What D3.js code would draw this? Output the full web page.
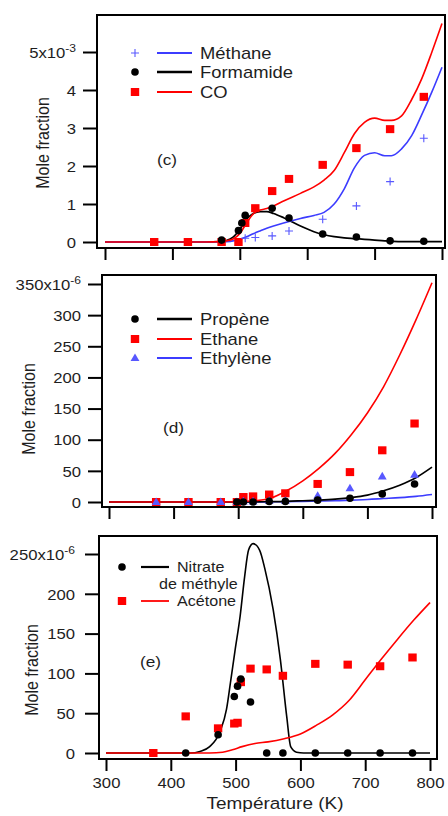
<!DOCTYPE html>
<html><head><meta charset="utf-8">
<script src="https://cdn.jsdelivr.net/npm/d3@7"></script>
<style>body{margin:0;background:#fff}svg{display:block}text{font-family:"Liberation Sans",Arial,sans-serif;fill:#1e1e1e}</style>
</head><body><svg id="c" width="448" height="816"></svg>
<script>
// ---------- data ----------
const tempTicks = [300,400,500,600,700,800];

// panel (c), units 1e-3
const cYTicks = [0,1,2,3,4,5];
const methaneT = [508,523,548,573,623,673,723,773];
const methaneV = [0.10,0.12,0.16,0.29,0.60,0.95,1.59,2.73];
const formamideT = [473,498,503,508,548,573,623,673,723,773];
const formamideV = [0.05,0.30,0.50,0.70,0.89,0.63,0.21,0.13,0.03,0.02];
const coT = [373,423,473,498,508,523,548,573,623,673,723,773];
const coV = [0,0,0,0,0.50,0.89,1.34,1.66,2.03,2.47,2.97,3.82];
const modelTc = [300,450,470,480,490,500,510,520,530,540,550,565,590,610,625,640,655,670,685,700,715,725,740,755,770,785,800];
const coModel = [0,0,0.01,0.03,0.08,0.22,0.50,0.74,0.84,0.88,0.95,1.08,1.28,1.45,1.63,1.88,2.35,2.85,3.15,3.26,3.20,3.20,3.32,3.75,4.30,5.00,5.75];
const methaneModel = [0,0,0,0.01,0.03,0.07,0.14,0.22,0.29,0.36,0.42,0.50,0.62,0.70,0.78,1.00,1.40,1.95,2.28,2.35,2.27,2.27,2.45,2.80,3.35,3.95,4.60];
const formamideModel = [0,0,0.01,0.04,0.13,0.33,0.60,0.75,0.80,0.80,0.75,0.64,0.42,0.27,0.19,0.14,0.11,0.09,0.07,0.05,0.03,0.02,0.01,0.01,0.01,0.01,0.01];

// panel (d), units 1e-6
const dYTicks = [0,50,100,150,200,250,300,350];
const propeneT = [498,508,523,548,573,623,673,723,773];
const propeneV = [0,0,0,1,1,3,6,13,29];
const ethaneT = [373,423,473,498,508,523,548,573,623,673,723,773];
const ethaneV = [0,0,0,0,8,9,12,14,29,48,83,126];
const ethyleneT = [373,423,473,498,508,523,548,573,623,673,723,773];
const ethyleneV = [0,0,0,0,1,1,2,2,10,22,41,44];
const modelTd = [300,450,500,525,550,575,600,625,650,675,700,725,750,775,800];
const ethaneModel = [0,0,0.5,2,6,18,34,54,78,108,143,185,236,292,352];
const propeneModel = [0,0,0,0.2,0.5,1,2,3,4.5,7,11,18,27,39,56];
const ethyleneModel = [0,0,0,0.1,0.3,0.6,1,1.5,2,3,4,5.5,7,9,12];

// panel (e), units 1e-6
const eYTicks = [0,50,100,150,200,250];
const nitrateT = [423,473,498,503,508,523,548,573,623,673,723,773];
const nitrateV = [0,23,71,84,93,64,0,0,0,0,0,0];
const acetoneT = [373,423,473,498,503,508,523,548,573,623,673,723,773];
const acetoneV = [0,46,31,37,38,89,106,105,97,112,111,109,120];
const nitrateModelT = [300,430,445,460,476,486,492,499,507,514,520,527,537,545,558,569,579,585,594,605,800];
const nitrateModelV = [0,0,2,8,27,55,88,128,172,222,255,263,255,232,180,118,45,8,1,0,0];
const acetoneModelT = [300,460,480,495,510,530,550,575,600,625,650,675,700,725,750,775,800];
const acetoneModelV = [0,0,1,4,8,12,14,18,24,35,48,66,92,118,143,167,189];

// ---------- drawing ----------
const RED="#ff0000", BLUE="#3c3cff", BLUEM="#5858ff", BLACK="#000";
const SX=1.15;
const svg=d3.select("#c");
svg.append("rect").attr("width",448).attr("height",816).attr("fill","#fff");
const zip=(a,b)=>a.map((t,i)=>[t,b[i]]);

function txt(g,x,y,str,size,anchor){
  return g.append("text").attr("transform",`translate(${x},${y}) scale(${SX},1)`)
    .attr("font-size",size).attr("text-anchor",anchor||"start").text(str);
}
function marker(g,type,cx,cy,color){
  if(type==="circle") g.append("circle").attr("cx",cx).attr("cy",cy).attr("r",3.8).attr("fill",color);
  else if(type==="square") g.append("rect").attr("x",cx-4.2).attr("y",cy-4).attr("width",8.4).attr("height",8).attr("fill",color);
  else if(type==="plus") g.append("path").attr("d",`M${cx-4},${cy}H${cx+4}M${cx},${cy-4}V${cy+4}`).attr("stroke",color).attr("stroke-width",1.1).attr("fill","none");
  else if(type==="triangle") g.append("path").attr("transform",`translate(${cx},${cy+0.5})`).attr("d",d3.symbol(d3.symbolTriangle,34)()).attr("fill",color);
}

function panel(cfg){
  const g=svg.append("g");
  const x=d3.scaleLinear().domain([300,800]).range(cfg.xr);
  const y=d3.scaleLinear().domain([0,cfg.ymax]).range(cfg.yr);
  const line=d3.line().x(d=>x(d[0])).y(d=>y(d[1])).curve(d3.curveMonotoneX);
  cfg.lines.forEach(l=>{
    g.append("path").datum(zip(l.t,l.v)).attr("d",line).attr("fill","none")
      .attr("stroke",l.color).attr("stroke-width",l.w||1.6).attr("stroke-linejoin","round");
  });
  cfg.series.forEach(s=>{
    zip(s.t,s.v).forEach(d=>marker(g,s.type,x(d[0]),y(d[1]),s.color));
  });
  const f=cfg.f;
  g.append("rect").attr("x",f[0]).attr("y",f[1]).attr("width",f[2]-f[0]).attr("height",f[3]-f[1])
    .attr("fill","none").attr("stroke","#000").attr("stroke-width",2);
  // y axis
  const ya=g.append("g").attr("transform",`translate(${f[0]},0)`)
    .call(d3.axisLeft(y).tickValues(cfg.yticks).tickSize(14).tickSizeOuter(0).tickFormat(d=>String(d)));
  ya.attr("font-family",null).attr("font-size",null);
  ya.select(".domain").remove();
  ya.selectAll(".tick line").attr("stroke","#000").attr("stroke-width",2);
  ya.selectAll(".tick text").attr("x",null).attr("dy",null).attr("fill","#1e1e1e")
    .attr("font-size",14.5).attr("transform",`translate(${-cfg.lab},5.2) scale(${SX},1)`);
  ya.selectAll(".tick text").filter(d=>d===cfg.ymax).each(function(d){
    const t=d3.select(this); t.text(String(d)+"x10");
    t.append("tspan").attr("dy",-6).attr("font-size",10.5).text(cfg.exp);
  });
  // x axis
  const xa=g.append("g").attr("transform",`translate(0,${f[3]})`)
    .call(d3.axisBottom(x).tickValues(tempTicks).tickSize(12).tickSizeOuter(0).tickFormat(cfg.xlabels?(d=>String(d)):(()=> "")));
  xa.attr("font-family",null).attr("font-size",null);
  xa.select(".domain").remove();
  xa.selectAll(".tick line").attr("stroke","#000").attr("stroke-width",2);
  xa.selectAll(".tick text").attr("y",null).attr("dy",null).attr("fill","#1e1e1e")
    .attr("font-size",14.5).attr("transform",`translate(0,29) scale(${SX},1)`);
  // y title
  g.append("text").attr("transform",`translate(${cfg.yt[0]},${cfg.yt[1]}) scale(${SX},1) rotate(-90)`)
    .attr("font-size",16).attr("text-anchor","middle").text("Mole fraction");
  // panel letter
  txt(g,cfg.letter[0],cfg.letter[1],cfg.letter[2],15);
  // legend
  cfg.legend.forEach(it=>{
    if(it.type) marker(g,it.type,it.mx,it.y,it.mcolor);
    if(it.lcolor) g.append("line").attr("x1",it.l1).attr("x2",it.l2).attr("y1",it.y).attr("y2",it.y)
      .attr("stroke",it.lcolor).attr("stroke-width",it.lw||1.8);
    txt(g,it.tx,it.y+it.fs*0.36,it.text,it.fs);
  });
  return {x,y};
}

// (c)
panel({
  xr:[105,442], yr:[242,52], ymax:5, yticks:cYTicks, exp:"-3", f:[97,15,445,248], lab:21, xlabels:false,
  yt:[49,143], letter:[157,165,"(c)"],
  lines:[
    {t:modelTc,v:formamideModel,color:BLACK,w:1.7},
    {t:modelTc,v:methaneModel,color:BLUE},
    {t:modelTc,v:coModel,color:RED}
  ],
  series:[
    {t:coT,v:coV,type:"square",color:RED},
    {t:formamideT,v:formamideV,type:"circle",color:BLACK},
    {t:methaneT,v:methaneV,type:"plus",color:BLUEM}
  ],
  legend:[
    {type:"plus",mx:135,mcolor:BLUEM,l1:157,l2:192,lcolor:BLUE,y:53,tx:200,text:"Méthane",fs:16},
    {type:"circle",mx:135,mcolor:BLACK,l1:157,l2:192,lcolor:BLACK,lw:2.6,y:72,tx:200,text:"Formamide",fs:16},
    {type:"square",mx:135,mcolor:RED,l1:157,l2:192,lcolor:RED,y:92,tx:200,text:"CO",fs:16}
  ]
});

// (d)
panel({
  xr:[109,432], yr:[502,284], ymax:350, yticks:dYTicks, exp:"-6", f:[102,275,436,507], lab:21, xlabels:false,
  yt:[35,409], letter:[163,433,"(d)"],
  lines:[
    {t:modelTd,v:ethyleneModel,color:BLUE},
    {t:modelTd,v:propeneModel,color:BLACK,w:1.7},
    {t:modelTd,v:ethaneModel,color:RED}
  ],
  series:[
    {t:ethaneT,v:ethaneV,type:"square",color:RED},
    {t:ethyleneT,v:ethyleneV,type:"triangle",color:BLUEM},
    {t:propeneT,v:propeneV,type:"circle",color:BLACK}
  ],
  legend:[
    {type:"circle",mx:135,mcolor:BLACK,l1:157,l2:192,lcolor:BLACK,lw:2.6,y:319,tx:200,text:"Propène",fs:16},
    {type:"square",mx:135,mcolor:RED,l1:157,l2:192,lcolor:RED,y:339,tx:200,text:"Ethane",fs:16},
    {type:"triangle",mx:135,mcolor:BLUEM,l1:157,l2:192,lcolor:BLUE,y:358,tx:200,text:"Ethylène",fs:16}
  ]
});

// (e)
panel({
  xr:[106,430], yr:[753,554], ymax:250, yticks:eYTicks, exp:"-6", f:[99,536,437,759], lab:24, xlabels:true,
  yt:[38,670], letter:[140,667,"(e)"],
  lines:[
    {t:nitrateModelT,v:nitrateModelV,color:BLACK,w:1.6},
    {t:acetoneModelT,v:acetoneModelV,color:RED}
  ],
  series:[
    {t:acetoneT,v:acetoneV,type:"square",color:RED},
    {t:nitrateT,v:nitrateV,type:"circle",color:BLACK}
  ],
  legend:[
    {type:"circle",mx:122,mcolor:BLACK,l1:141,l2:169,lcolor:BLACK,lw:2.2,y:567,tx:177,text:"Nitrate",fs:14},
    {l1:0,l2:0,y:584,tx:159,text:"de méthyle",fs:14},
    {type:"square",mx:122,mcolor:RED,l1:141,l2:169,lcolor:RED,y:601,tx:177,text:"Acétone",fs:14}
  ]
});

txt(svg,275,809,"Température (K)",16.5,"middle");
</script></body></html>
